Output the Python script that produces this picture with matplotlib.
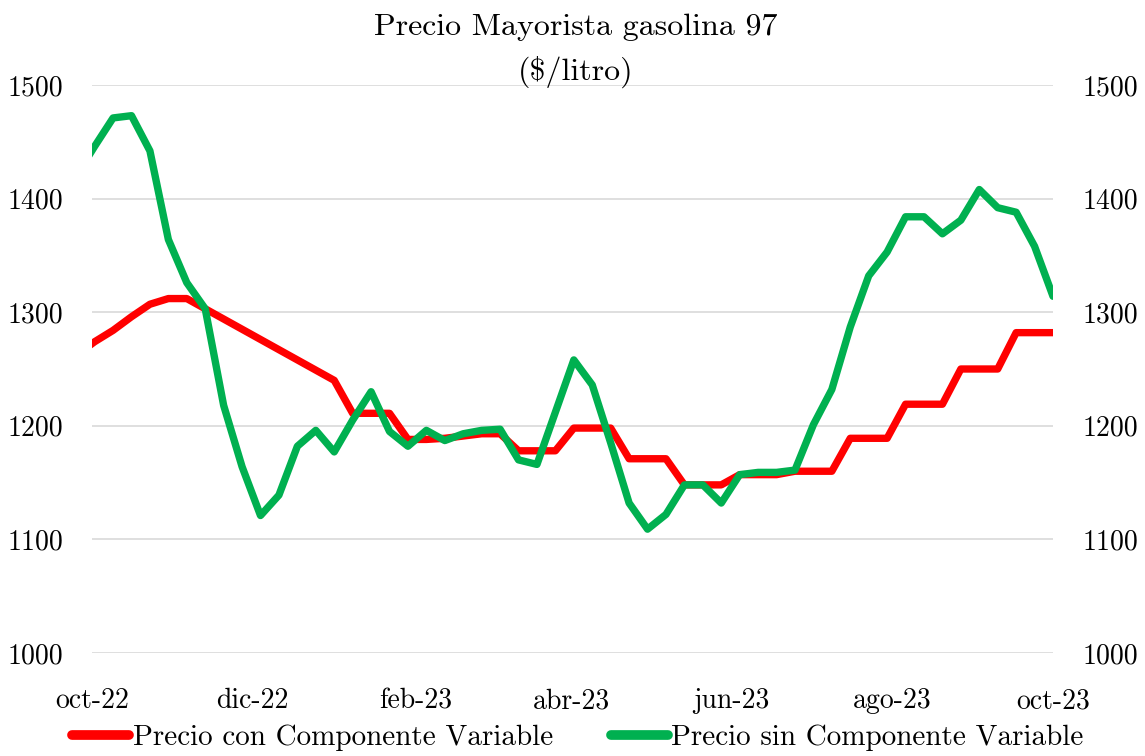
import matplotlib
matplotlib.use("Agg")
import matplotlib.pyplot as plt
import pandas as pd

plt.rcParams['font.family'] = ['cmr10', 'DejaVu Serif']
plt.rcParams['axes.formatter.use_mathtext'] = True

title_lines = ["Precio Mayorista gasolina 97", r"(\$/litro)"]
series_names = ["Precio con Componente Variable", "Precio sin Componente Variable"]

# weekly observations (first one falls just before the visible range)
dates = pd.date_range("2022-09-25", periods=54, freq="7D")

con_componente = [
    1262, 1274, 1284, 1296, 1307, 1312, 1312, 1303, 1294, 1285,
    1276, 1267, 1258, 1249, 1240, 1211, 1211, 1211, 1188, 1188,
    1189, 1191, 1193, 1193, 1178, 1178, 1178, 1198, 1198, 1198,
    1171, 1171, 1171, 1148, 1148, 1148, 1157, 1157, 1157, 1160,
    1160, 1160, 1189, 1189, 1189, 1219, 1219, 1219, 1250, 1250,
    1250, 1282, 1282, 1282,
]
sin_componente = [
    1420, 1446, 1471, 1473, 1442, 1364, 1326, 1303, 1218, 1164,
    1121, 1139, 1182, 1196, 1177, 1205, 1230, 1195, 1182, 1196,
    1187, 1193, 1196, 1197, 1170, 1166, 1212, 1258, 1236, 1185,
    1132, 1109, 1122, 1148, 1148, 1132, 1157, 1159, 1159, 1161,
    1201, 1232, 1287, 1332, 1353, 1384, 1384, 1369, 1381, 1408,
    1392, 1388, 1358, 1314,
]

tick_dates = pd.to_datetime(["2022-10-01", "2022-12-01", "2023-02-01", "2023-04-01",
                             "2023-06-01", "2023-08-01", "2023-10-01"])
tick_labels = ["oct-22", "dic-22", "feb-23", "abr-23", "jun-23", "ago-23", "oct-23"]
y_ticks = [1000, 1100, 1200, 1300, 1400, 1500]

W, H = 1145, 756
fig = plt.figure(figsize=(W / 100, H / 100), dpi=100)
ax = fig.add_axes([92 / W, 1 - 653 / H, (1053 - 92) / W, (653 - 85) / H])

FS = 20
ax.plot(dates, con_componente, color="#FF0000", lw=5.3, solid_capstyle="round",
        solid_joinstyle="round", label=series_names[0], zorder=3)
ax.plot(dates, sin_componente, color="#00B050", lw=5.3, solid_capstyle="round",
        solid_joinstyle="round", label=series_names[1], zorder=4)

ax.set_xlim(pd.Timestamp("2022-10-01"), pd.Timestamp("2023-10-01"))
ax.set_ylim(1000, 1500)
ax.set_yticks(y_ticks)
ax.set_yticklabels([str(v) for v in y_ticks])
ax.set_xticks(tick_dates)
ax.set_xticklabels(tick_labels)
ax.grid(axis="y", color="#D9D9D9", lw=1.2, zorder=0)
ax.set_axisbelow(True)
for s in ax.spines.values():
    s.set_visible(False)
ax.tick_params(axis="both", length=0, labelsize=FS)
ax.tick_params(axis="y", pad=21)
ax.tick_params(axis="x", pad=25)

ax2 = ax.twinx()
ax2.set_ylim(1000, 1500)
ax2.set_yticks(y_ticks)
ax2.set_yticklabels([str(v) for v in y_ticks])
for s in ax2.spines.values():
    s.set_visible(False)
ax2.tick_params(axis="y", length=0, labelsize=FS, pad=21)

TFS = 23
fig.text(575.5 / W, 1 - 27 / H, title_lines[0], ha="center", va="center", fontsize=TFS)
fig.text(575.5 / W, 1 - 72 / H, title_lines[1], ha="center", va="center", fontsize=TFS)

leg = fig.legend(loc="center", bbox_to_anchor=(578 / W, 1 - 738 / H), ncol=2,
                 frameon=False, fontsize=21, handlelength=1.95, handletextpad=0.12,
                 columnspacing=2.0, borderpad=0, borderaxespad=0)
for line in leg.get_lines():
    line.set_linewidth(7)

fig.savefig("out.png", dpi=100)
